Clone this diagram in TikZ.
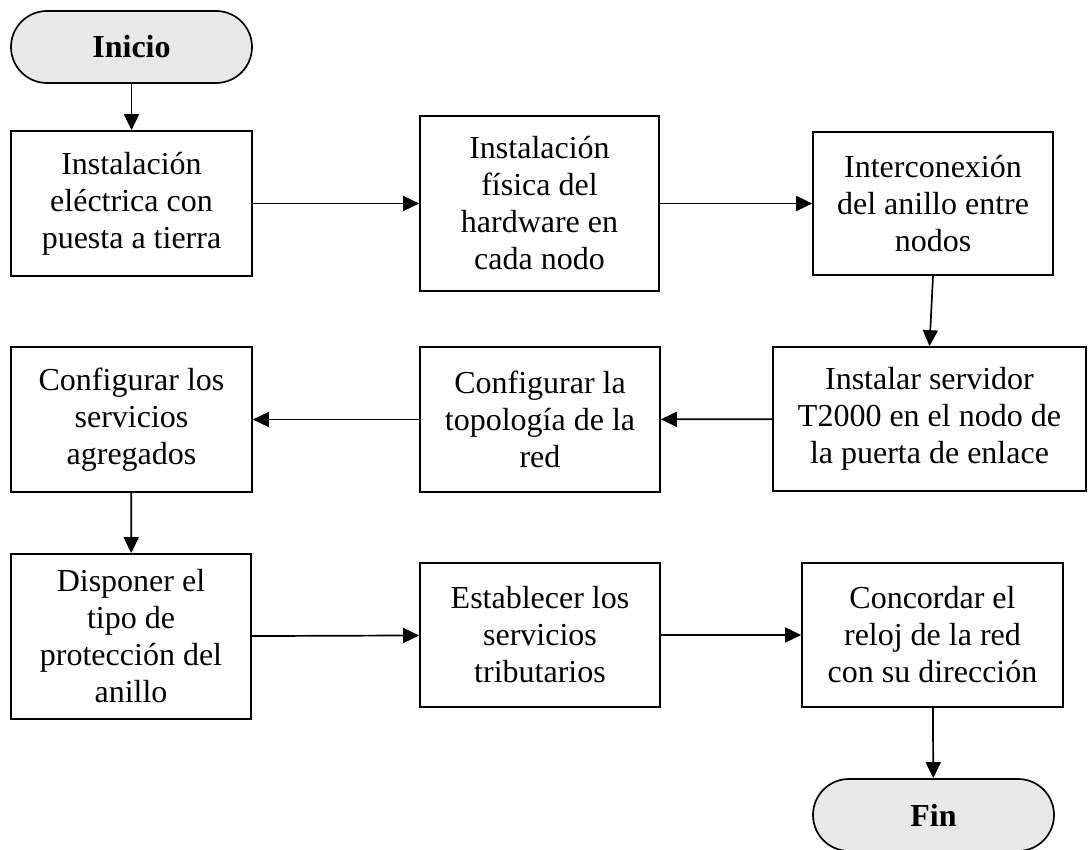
\documentclass[tikz,border=0pt]{standalone}
\usepackage{fontspec}
\setmainfont{Liberation Serif}
\usetikzlibrary{arrows.meta}

\begin{document}
\begin{tikzpicture}[x=1pt,y=-1pt,
    box/.style={draw, line width=1.7pt, align=center, inner sep=0pt, font=\fontsize{32}{37}\selectfont},
    term/.style={box, fill=gray!18, rounded corners=36pt, minimum width=241pt, minimum height=72pt, font=\fontsize{32}{37}\selectfont\bfseries},
    arr/.style={-{Triangle[length=16pt,width=15pt]}, line width=1.7pt}]
    \useasboundingbox (0,0) rectangle (1088,850);

    \node[term] (inicio) at (131.5,47) {Inicio};
    \node[box, minimum width=241pt, minimum height=145pt] (b1) at (131.5,203.5) {Instalación\\eléctrica con\\puesta a tierra};
    \node[box, minimum width=239pt, minimum height=175pt] (b2) at (539.5,203.5) {Instalación\\física del\\hardware en\\cada nodo};
    \node[box, minimum width=240pt, minimum height=143pt] (b3) at (933,203.5) {Interconexión\\del anillo entre\\nodos};

    \node[box, minimum width=313pt, minimum height=144pt] (b4) at (929.5,419) {Instalar servidor\\T2000 en el nodo de\\la puerta de enlace};
    \node[box, minimum width=240pt, minimum height=145pt] (b5) at (540,419.5) {Configurar la\\topología de la\\red};
    \node[box, minimum width=241pt, minimum height=145pt] (b6) at (131.5,419.5) {Configurar los\\servicios\\agregados};

    \node[box, minimum width=240pt, minimum height=165pt] (b7) at (131,636.5) {Disponer el\\tipo de\\protección del\\anillo};
    \node[box, minimum width=240pt, minimum height=144pt] (b8) at (540,635) {Establecer los\\servicios\\tributarios};
    \node[box, minimum width=261pt, minimum height=144pt] (b9) at (932.5,635) {Concordar el\\reloj de la red\\con su dirección};
    \node[term] (fin) at (933.5,815) {Fin};

    \draw[arr] (inicio) -- (b1);
    \draw[arr] (b1) -- (b2);
    \draw[arr] (b2) -- (b3);
    \draw[arr] (b3.south) -- (b4.north);
    \draw[arr] (b4) -- (b5);
    \draw[arr] (b5) -- (b6);
    \draw[arr] (b6) -- (b7);
    \draw[arr] (b7) -- (b8);
    \draw[arr] (b8) -- (b9);
    \draw[arr] (b9) -- (fin);
\end{tikzpicture}
\end{document}
